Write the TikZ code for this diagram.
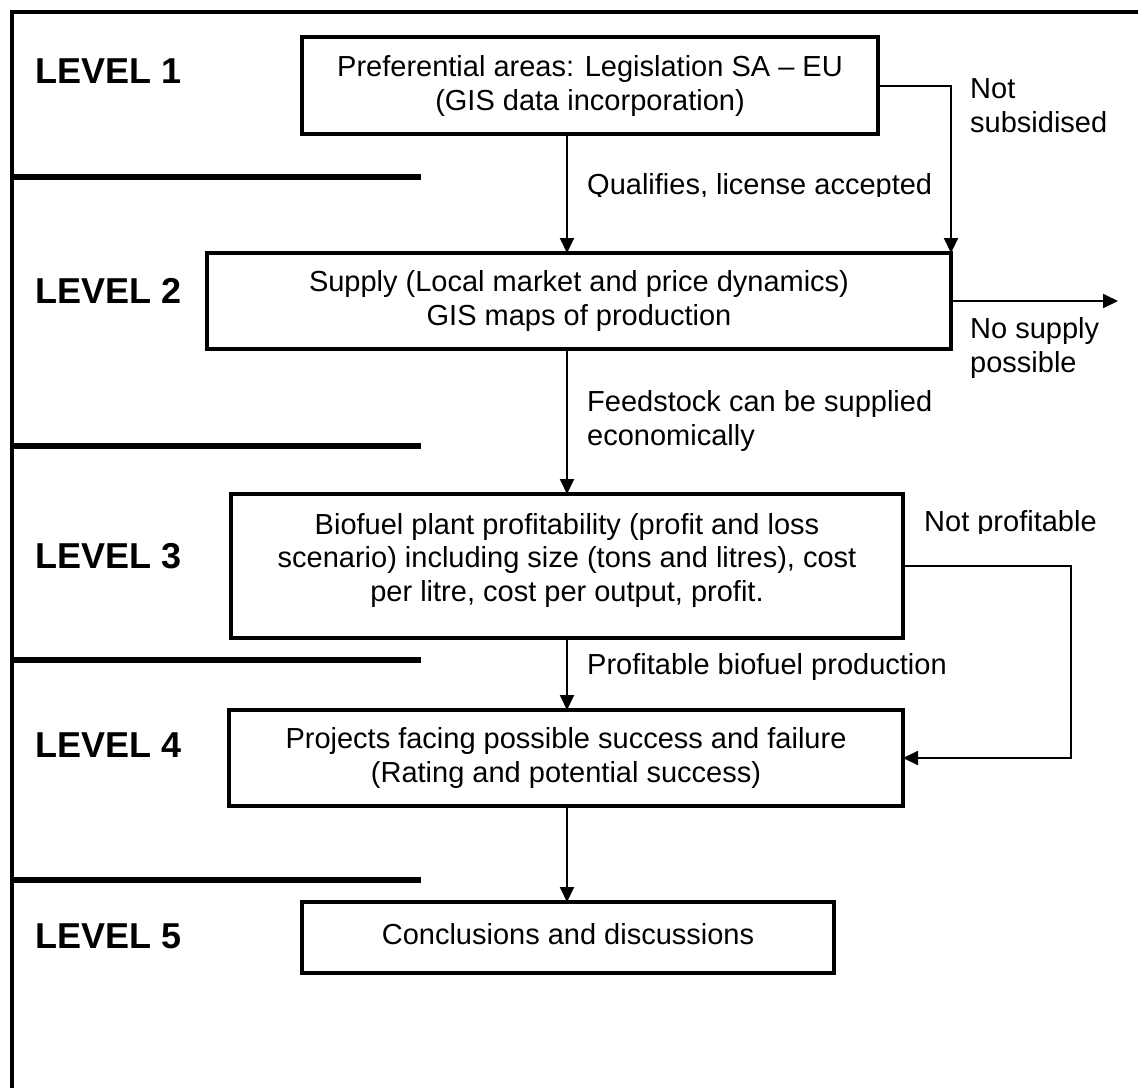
\documentclass[tikz,border=0pt]{standalone}
\usepackage{fontspec}
\setmainfont{Liberation Sans}
\usetikzlibrary{arrows.meta}
\newcommand{\flowfont}{\fontsize{29}{33.5}\selectfont}
\newcommand{\levelfont}{\fontsize{36}{40}\selectfont\bfseries}
\begin{document}
\begin{tikzpicture}[x=1pt,y=-1pt,
  box/.style={draw, rectangle, line width=4pt, inner sep=0pt, outer sep=0pt},
  txt/.style={inner sep=0pt, align=center, anchor=base, font=\flowfont},
  lbl/.style={inner sep=0pt, align=left, anchor=base west, font=\flowfont},
  lvl/.style={inner sep=0pt, anchor=base west, font=\levelfont},
  conn/.style={line width=2pt, -{Triangle[length=15pt,width=14pt]}},
  frame/.style={line width=3.5pt},
  divider/.style={line width=6.5pt}]

% page
\fill[white] (0,0) rectangle (1138,1088);
\useasboundingbox (0,0) rectangle (1138,1088);

% outer frame and level dividers
\draw[frame] (12,1088) -- (12,12) -- (1138,12);
\draw[divider] (12,177) -- (421,177);
\draw[divider] (12,446) -- (421,446);
\draw[divider] (12,660) -- (421,660);
\draw[divider] (12,880) -- (421,880);

% level labels
\node[lvl] (lev1) at (35,83)  {LEVEL 1};
\node[lvl] (lev2) at (35,303) {LEVEL 2};
\node[lvl] (lev3) at (35,568) {LEVEL 3};
\node[lvl] (lev4) at (35,757) {LEVEL 4};
\node[lvl] (lev5) at (35,948) {LEVEL 5};

% process boxes
\node[box, minimum width=576pt, minimum height=97pt]  (b1) at (590,85.5) {};
\node[box, minimum width=744pt, minimum height=96pt]  (b2) at (579,301) {};
\node[box, minimum width=672pt, minimum height=144pt] (b3) at (567,566) {};
\node[box, minimum width=674pt, minimum height=96pt]  (b4) at (566,758) {};
\node[box, minimum width=532pt, minimum height=71pt]  (b5) at (568,937.5) {};

% box texts (anchored on the baseline of the last line)
\node[txt] (t1) at (590,110) {Preferential areas: Legislation SA – EU\\(GIS data incorporation)};
\node[txt] (t2) at (579,325) {Supply (Local market and price dynamics)\\GIS maps of production};
\node[txt] (t3) at (567,601) {Biofuel plant profitability (profit and loss\\scenario) including size (tons and litres), cost\\per litre, cost per output, profit.};
\node[txt] (t4) at (566,782) {Projects facing possible success and failure\\(Rating and potential success)};
\node[txt] (t5) at (568,944) {Conclusions and discussions};

% main flow
\coordinate (spine) at (567,0);
\draw[conn] (spine |- b1.south) -- (spine |- b2.north);
\draw[conn] (spine |- b2.south) -- (spine |- b3.north);
\draw[conn] (spine |- b3.south) -- (spine |- b4.north);
\draw[conn] (spine |- b4.south) -- (spine |- b5.north);

% side branches
\draw[conn] (b1.east) -| (b2.north east);
\coordinate (nosupply) at (1118,301);
\draw[conn] (b2.east) -- (nosupply);
\coordinate (loopback) at (1071,566);
\draw[conn] (b3.east) -- (loopback) |- (b4.east);

% connector labels
\begin{scope}
  \clip (580,150) rectangle (960,196.5);
  \node[lbl] (qual) at (587,194) {Qualifies, license accepted};
\end{scope}
\node[lbl] (nsub) at (970,132) {Not\\subsidised};
\node[lbl] (nsup) at (970,372) {No supply\\possible};
\node[lbl] (feed) at (587,445) {Feedstock can be supplied\\economically};
\begin{scope}
  \clip (915,490) rectangle (1138,533);
  \node[lbl] (nprof) at (924,531) {Not profitable};
\end{scope}
\node[lbl] (prof) at (587,674) {Profitable biofuel production};
\end{tikzpicture}
\end{document}
